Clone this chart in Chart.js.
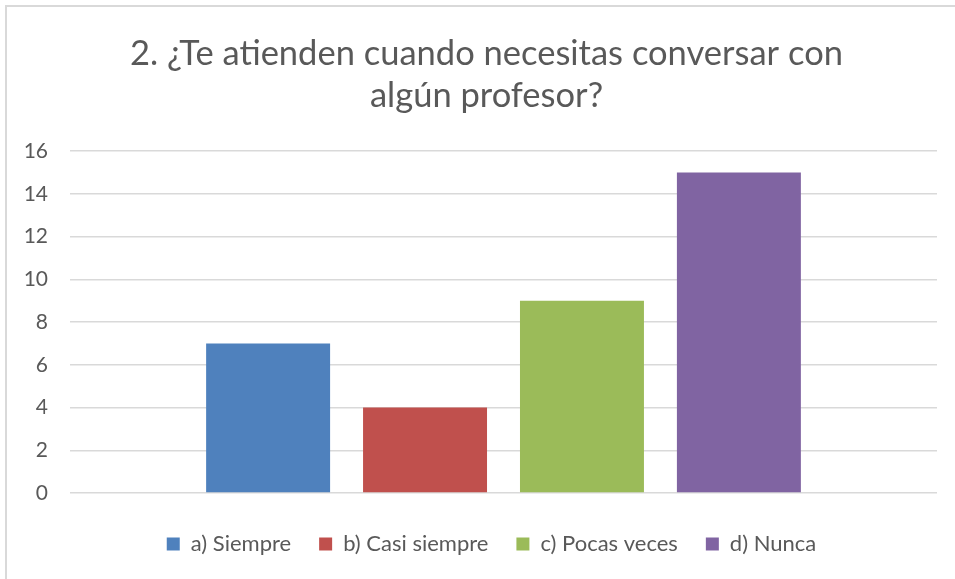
<!DOCTYPE html>
<html>
<head>
<meta charset="utf-8">
<script src="https://cdn.jsdelivr.net/npm/chart.js@4"></script>
<style>
  html, body { margin: 0; padding: 0; background: #fff; }
  #wrap { width: 955px; height: 579px; position: relative; }
</style>
</head>
<body>
<div id="wrap"><canvas id="chart"></canvas></div>
<script>
// data
const categories = [''];
const seriesLabels = ['a) Siempre', 'b) Casi siempre', 'c) Pocas veces', 'd) Nunca'];
const seriesValues = [7, 4, 9, 15];
const seriesColors = ['#4F81BD', '#C0504D', '#9BBB59', '#8064A2'];
const titleLines = ['2. ¿Te atienden cuando necesitas conversar con', 'algún profesor?'];

const TEXT = '#595959';
const FONT = 'Lato';

// the light frame on the top and left edge (the rest is cut off in the original)
const framePlugin = {
    id: 'frame',
    beforeDraw(chart) {
        const ctx = chart.ctx;
        ctx.save();
        ctx.strokeStyle = '#d9d9d9';
        ctx.lineWidth = 2;
        ctx.beginPath();
        ctx.moveTo(6, chart.height);
        ctx.lineTo(6, 6);
        ctx.lineTo(chart.width, 6);
        ctx.stroke();
        ctx.restore();
    }
};

// title and legend sit a little right of the canvas centre in the original
const nudgePlugin = {
    id: 'nudge',
    afterLayout(chart) {
        if (chart.titleBlock) chart.titleBlock.left += 30;
        if (chart.legend) chart.legend.left += 40;
    }
};

const datasets = seriesLabels.map(function (label, i) {
    return {
        label: label,
        data: [seriesValues[i]],
        backgroundColor: seriesColors[i],
        categoryPercentage: 0.724,
        barPercentage: 0.79
    };
});

new Chart(document.getElementById('chart'), {
    type: 'bar',
    data: { labels: categories, datasets: datasets },
    options: {
        responsive: true,
        maintainAspectRatio: false,
        animation: false,
        layout: { padding: { left: 6, right: 18, top: 8, bottom: 14 } },
        plugins: {
            tooltip: { enabled: false },
            title: {
                display: true,
                text: titleLines,
                color: TEXT,
                font: { family: FONT, size: 34.5, weight: 'normal', lineHeight: 1.22 },
                padding: { top: 25, bottom: 34 }
            },
            legend: {
                position: 'bottom',
                labels: {
                    color: TEXT,
                    font: { family: FONT, size: 22 },
                    boxWidth: 13,
                    boxHeight: 13,
                    padding: 28
                }
            }
        },
        scales: {
            x: {
                display: true,
                ticks: { display: false },
                grid: { display: false },
                border: { display: false },
                // no labels under the bars, just a bit of room above the legend
                afterFit: function (scale) { scale.height = 12; }
            },
            y: {
                min: 0,
                max: 16,
                ticks: { stepSize: 2, color: TEXT, font: { family: FONT, size: 21 }, padding: 22 },
                grid: { color: '#d9d9d9', lineWidth: 1.5, drawTicks: false },
                border: { display: false },
                afterFit: function (scale) { scale.width = 64; }
            }
        }
    },
    plugins: [framePlugin, nudgePlugin]
});
</script>
</body>
</html>
